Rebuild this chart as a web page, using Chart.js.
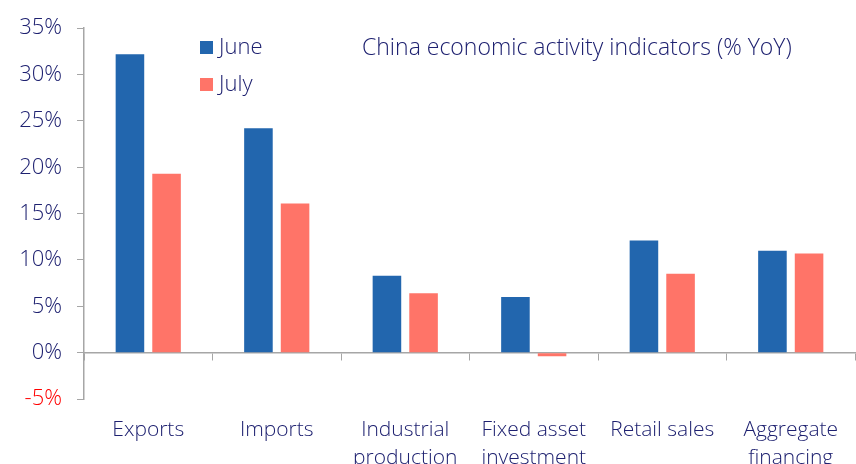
<!DOCTYPE html>
<html>
<head>
<meta charset="utf-8">
<script src="https://cdn.jsdelivr.net/npm/chart.js@4.4.1/dist/chart.umd.min.js"></script>
<style>
  html, body { margin: 0; padding: 0; background: #fff; }
  #wrap { width: 856px; height: 464px; }
</style>
</head>
<body>
<div id="wrap"><canvas id="chart" width="856" height="464"></canvas></div>
<script>
const categories = [
  "Exports",
  "Imports",
  ["Industrial", "production"],
  ["Fixed asset", "investment"],
  "Retail sales",
  ["Aggregate", "financing"],
];
const juneValues = [32.2, 24.2, 8.3, 6.0, 12.1, 11.0];
const julyValues = [19.3, 16.1, 6.4, -0.4, 8.5, 10.7];
const yTicks = [-5, 0, 5, 10, 15, 20, 25, 30, 35];

const TEXT = "#1e2170";
const AXIS = "#a6a6a6";
const FONT = "'Open Sans', 'Noto Sans', sans-serif";

// title + legend sit inside the plot, drawn by hand
const overlay = {
  id: "overlay",
  afterDraw(chart) {
    const ctx = chart.ctx;
    ctx.save();
    ctx.fillStyle = TEXT;
    ctx.textBaseline = "middle";
    ctx.font = "300 23px " + FONT;
    ctx.fillText("China economic activity indicators (% YoY)", 362, 48);
    ctx.font = "300 22px " + FONT;
    chart.data.datasets.forEach((ds, i) => {
      const y = 48 + i * 37;
      ctx.fillStyle = ds.backgroundColor;
      ctx.fillRect(200, y - 7, 13, 13);
      ctx.fillStyle = TEXT;
      ctx.fillText(ds.label, 219, y);
    });
    ctx.restore();
  },
};

new Chart(document.getElementById("chart"), {
  type: "bar",
  data: {
    labels: categories,
    datasets: [
      {
        label: "June",
        data: juneValues,
        backgroundColor: "#2266ae",
        categoryPercentage: 0.57,
        barPercentage: 0.78,
      },
      {
        label: "July",
        data: julyValues,
        backgroundColor: "#ff7468",
        categoryPercentage: 0.57,
        barPercentage: 0.78,
      },
    ],
  },
  options: {
    responsive: false,
    animation: false,
    layout: { padding: { top: 20, right: 1, left: 0, bottom: 65 } },
    plugins: {
      legend: { display: false },
      tooltip: { enabled: false },
    },
    scales: {
      x: {
        position: { y: 0 },
        afterFit(scale) {
          scale.paddingLeft = 0;
          scale.paddingRight = 0;
        },
        grid: {
          display: true,
          drawOnChartArea: false,
          tickLength: 7,
          color: AXIS,
          offset: true,
        },
        border: { display: true, color: AXIS, width: 1.5 },
        ticks: {
          color: TEXT,
          font: { family: FONT, size: 21, weight: 300, lineHeight: 1.3 },
          padding: 57,
          maxRotation: 0,
          autoSkip: false,
        },
      },
      y: {
        min: -5,
        max: 35,
        afterBuildTicks(scale) {
          scale.ticks = yTicks.map((v) => ({ value: v }));
        },
        afterFit(scale) {
          scale.width = 84;
        },
        grid: {
          drawOnChartArea: false,
          tickLength: 7,
          color: AXIS,
        },
        border: { display: true, color: AXIS, width: 1.5 },
        ticks: {
          color: (c) => (c.tick.value < 0 ? "#ff0000" : TEXT),
          font: { family: FONT, size: 22, weight: 300 },
          padding: 15,
          callback: (v) => v + "%",
        },
      },
    },
  },
  plugins: [overlay],
});
</script>
</body>
</html>
